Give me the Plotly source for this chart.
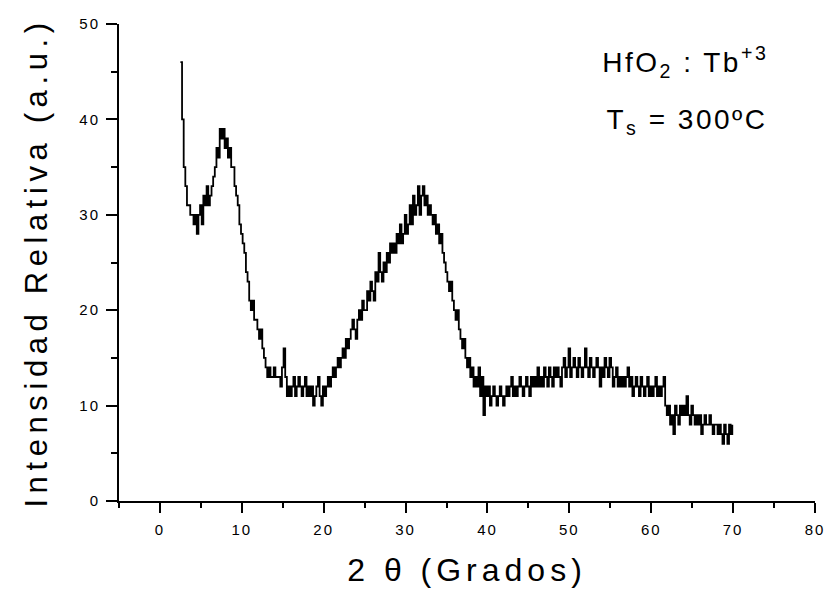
import numpy as np
import plotly.graph_objects as go

# 2-theta start and step (degrees)
theta_start = 2.5
theta_step = 0.2

# Relative intensity values (a.u.)
intensity = [
    46, 40, 35, 33, 31, 31, 30, 30, 29, 30,
    28, 30, 31, 29, 32, 31, 33, 31, 32, 33,
    34, 35, 37, 36, 39, 38, 39, 37, 38, 36,
    37, 35, 35, 33, 32, 31, 29, 28, 27, 26,
    24, 23, 21, 20, 21, 19, 19, 18, 17, 18,
    16, 15, 14, 13, 14, 13, 13, 14, 13, 13,
    13, 12, 14, 16, 13, 11, 12, 11, 12, 13,
    11, 12, 13, 12, 11, 12, 13, 11, 12, 11,
    12, 10, 11, 12, 13, 11, 10, 12, 11, 12,
    13, 12, 13, 14, 13, 14, 15, 14, 15, 16,
    15, 17, 16, 17, 18, 19, 18, 17, 19, 20,
    19, 21, 20, 20, 22, 21, 23, 22, 21, 24,
    23, 26, 24, 23, 25, 24, 26, 25, 27, 26,
    27, 26, 28, 27, 29, 27, 28, 30, 28, 29,
    31, 29, 32, 30, 31, 33, 30, 32, 33, 31,
    32, 30, 31, 30, 29, 30, 28, 29, 27, 28,
    26, 25, 24, 23, 22, 23, 21, 20, 19, 20,
    18, 17, 16, 17, 15, 14, 15, 13, 14, 12,
    13, 12, 14, 11, 13, 9, 12, 11, 12, 10,
    11, 12, 11, 10, 11, 12, 11, 10, 11, 12,
    11, 12, 13, 11, 12, 11, 12, 13, 12, 11,
    12, 13, 12, 11, 13, 12, 13, 12, 14, 12,
    13, 12, 14, 13, 12, 14, 13, 12, 14, 13,
    14, 13, 12, 14, 15, 13, 14, 16, 13, 14,
    15, 14, 13, 15, 14, 13, 14, 16, 14, 13,
    15, 14, 13, 14, 15, 14, 12, 14, 13, 15,
    14, 13, 15, 14, 12, 13, 14, 12, 13, 12,
    13, 12, 13, 14, 12, 13, 11, 12, 13, 12,
    11, 13, 12, 11, 12, 13, 11, 12, 11, 12,
    13, 11, 12, 11, 12, 13, 10, 9, 10, 8,
    9, 7, 10, 9, 8, 10, 9, 10, 9, 11,
    9, 8, 10, 9, 8, 9, 8, 9, 7, 8,
    9, 8, 8, 9, 8, 7, 8, 8, 7, 8,
    7, 6, 8, 7, 6, 8, 7, 8,
]
two_theta = [round(theta_start + theta_step * i, 2) for i in range(len(intensity))]

x_ticks = [0, 10, 20, 30, 40, 50, 60, 70, 80]
y_ticks = [0, 10, 20, 30, 40, 50]

FONT = "Liberation Sans, Arial, sans-serif"

fig = go.Figure()
fig.add_trace(go.Scatter(
    x=two_theta, y=intensity, mode="lines",
    line=dict(color="black", width=1.8, shape="hv"), showlegend=False,
))

axis_common = dict(
    showline=True, linecolor="black", linewidth=2, mirror=False,
    showgrid=False, zeroline=False, ticks="outside", tickcolor="black",
    tickwidth=2, tickfont=dict(family=FONT, size=15, color="black"),
    automargin=False,
)

fig.update_xaxes(
    range=[-5, 80], tickvals=x_ticks, ticklen=10, ticklabelstandoff=4,
    minor=dict(dtick=5, tick0=0, ticklen=5, tickwidth=2, ticks="outside", tickcolor="black"),
    title=dict(text="2 θ (Grados)", font=dict(family=FONT, size=32, color="black"), standoff=22),
    **axis_common,
)
fig.update_yaxes(
    range=[0, 50], tickvals=y_ticks, ticklen=11, ticklabelstandoff=3,
    minor=dict(dtick=5, tick0=0, ticklen=6, tickwidth=2, ticks="outside", tickcolor="black"),
    title=dict(text="Intensidad Relativa (a.u.)", font=dict(family=FONT, size=31, color="black"), standoff=26),
    **axis_common,
)

fig.add_annotation(
    x=0.711, y=0.92, xref="paper", yref="paper", xanchor="left", yanchor="middle",
    text="HfO<sub>2</sub> : Tb<sup>+3</sup>", showarrow=False,
    font=dict(family=FONT, size=28, color="black"),
)
fig.add_annotation(
    x=0.716, y=0.796, xref="paper", yref="paper", xanchor="left", yanchor="middle",
    text="T<sub>s</sub> = 300ºC", showarrow=False,
    font=dict(family=FONT, size=28, color="black"),
)

fig.update_layout(
    width=828, height=590,
    margin=dict(l=119, r=13, t=24, b=89),
    plot_bgcolor="white", paper_bgcolor="white",
)

post = """
var s=document.createElement('style');
s.textContent='.xtitle{letter-spacing:5px;} .ytitle{letter-spacing:5.6px;} .annotation-text{letter-spacing:2.5px;} .xtick text,.ytick text{letter-spacing:2px;}';
document.head.appendChild(s);
"""
fig.write_html("out.html", post_script=post)
